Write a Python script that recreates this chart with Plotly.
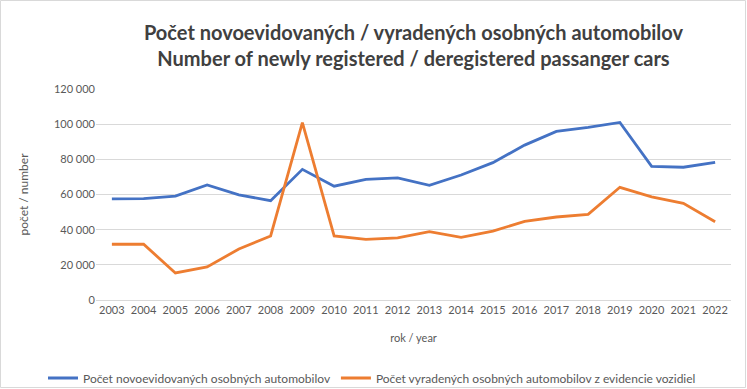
import plotly.graph_objects as go

years = [str(y) for y in range(2003, 2023)]
new_registered = [57500, 57600, 59100, 65400, 59800, 56500, 74300, 64700, 68600, 69400,
                  65200, 71100, 78100, 88100, 95900, 98200, 101000, 76000, 75500, 78300]
deregistered = [31700, 31700, 15400, 18800, 29000, 36400, 100900, 36400, 34500, 35300,
                38900, 35600, 39200, 44700, 47200, 48700, 64100, 58700, 55000, 44500]

name_new = "Počet novoevidovaných osobných automobilov"
name_der = "Počet vyradených osobných automobilov z evidencie vozidiel"

W, H = 747, 389
ml, mr, mt, mb = 96, 16, 89, 89
pw, ph = W - ml - mr, H - mt - mb

fig = go.Figure()
fig.add_trace(go.Scatter(x=years, y=new_registered, mode="lines", name=name_new,
                         line=dict(color="#4472C4", width=2.8)))
fig.add_trace(go.Scatter(x=years, y=deregistered, mode="lines", name=name_der,
                         line=dict(color="#ED7D31", width=2.8)))

font_family = "Lato, 'Open Sans', sans-serif"
fig.update_layout(
    width=W, height=H,
    margin=dict(l=ml, r=mr, t=mt, b=mb, autoexpand=False),
    paper_bgcolor="white", plot_bgcolor="white",
    separators=", ",
    font=dict(family=font_family, color="#595959", size=11),
    title=dict(
        text="<b>Počet novoevidovaných / vyradených osobných automobilov<br>Number of newly registered / deregistered passanger cars</b>",
        x=0.5, xref="paper", xanchor="center",
        y=1 - 40 / H, yref="container", yanchor="middle",
        font=dict(size=20, color="#404040", family=font_family),
    ),
    xaxis=dict(
        type="category", showgrid=False, showline=True, linecolor="#D9D9D9", linewidth=1,
        ticks="", tickfont=dict(size=11, color="#595959"), automargin=False,
        title=dict(text="rok / year", font=dict(size=11, color="#595959"), standoff=19),
        range=[-0.5, len(years) - 0.5],
    ),
    yaxis=dict(
        range=[0, 120000], dtick=20000, tickformat=",d", automargin=False,
        showgrid=True, gridcolor="#D9D9D9", gridwidth=1, zeroline=False,
        ticks="", tickfont=dict(size=11, color="#595959"),
        title=dict(text="počet / number", font=dict(size=12, color="#595959"), standoff=22),
    ),
    legend=dict(
        orientation="h",
        x=(43 - ml) / pw, xanchor="left", y=-(378 - 300) / ph, yanchor="middle",
        font=dict(size=12, color="#595959"), tracegroupgap=0,
        bgcolor="rgba(0,0,0,0)",
    ),
    shapes=[dict(type="rect", xref="paper", yref="paper",
                 x0=-(ml - 0.5) / pw, x1=1 + (mr - 1.5) / pw,
                 y0=-(mb - 1.5) / ph, y1=1 + (mt - 0.5) / ph,
                 line=dict(color="#D9D9D9", width=1), layer="below")],
)

fig.write_html("out.html", config={"displayModeBar": False},
               post_script="document.body.style.margin='0';")
